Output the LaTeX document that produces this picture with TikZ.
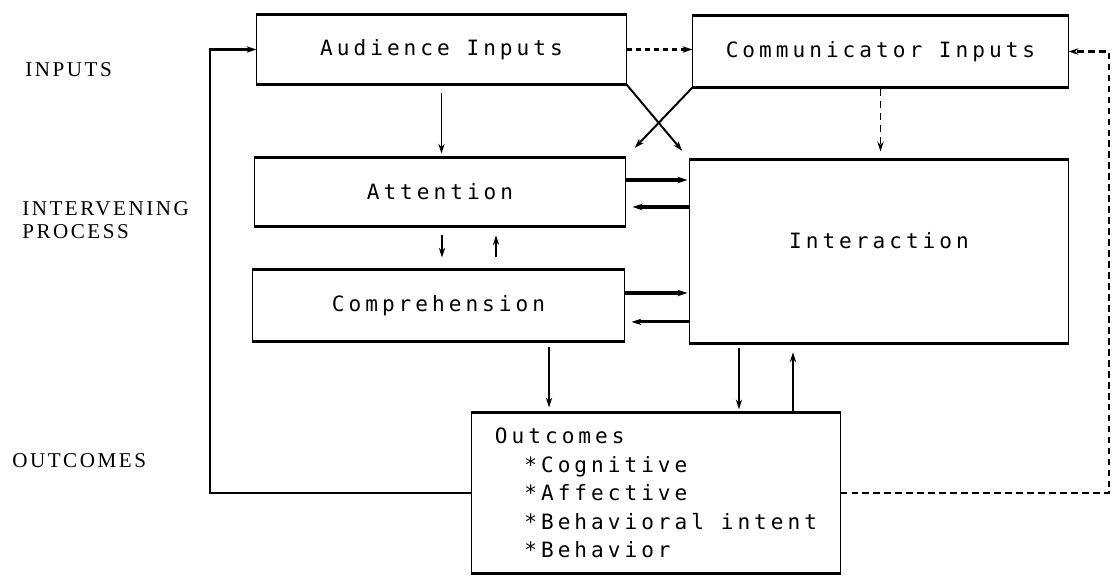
\documentclass[tikz,border=0pt]{standalone}
\usepackage{fontspec}
\newfontfamily\tw[LetterSpace=19]{DejaVu Sans Mono}
\newfontfamily\lbl[LetterSpace=12]{Liberation Serif}
\usetikzlibrary{arrows.meta,calc}
\begin{document}
\begin{tikzpicture}[x=0.025cm,y=-0.025cm,
  box/.style={draw, line width=0.7pt, inner sep=0pt, font=\tw\fontsize{15}{20.3}\selectfont},
  edge/.style={line width=2.3pt},
  tip/.style={-{Stealth[length=7pt,width=4.5pt]}},
  thinarrow/.style={tip, line width=0.8pt},
  thickarrow/.style={tip, line width=2.2pt},
  fbarrow/.style={tip, line width=1.6pt},
  crossarrow/.style={tip, line width=1.4pt},
  dashthick/.style={tip, line width=2.2pt, dash pattern=on 4pt off 2.4pt},
  dashfb/.style={tip, line width=1.8pt, dash pattern=on 4.8pt off 3pt},
  dashthin/.style={tip, line width=1.1pt, dash pattern=on 5pt off 3.5pt},
  sidelabel/.style={anchor=west, align=left, inner sep=0pt, font=\lbl\fontsize{15}{16.3}\selectfont}
]
\useasboundingbox (0,0) rectangle (1113,577);

% boxes
\node[box, minimum width=9.225cm, minimum height=1.725cm] (aud) at (441.5,49.5) {Audience Inputs};
\node[box, minimum width=9.375cm, minimum height=1.775cm] (com) at (880.5,51.5) {Communicator Inputs};
\node[box, minimum width=9.25cm, minimum height=1.7cm] (att) at (440,192) {Attention};
\node[box, minimum width=9.45cm, minimum height=4.575cm] (int) at (879,251.5) {};
\node[font=\tw\fontsize{15}{20.3}\selectfont, inner sep=0pt] (intlbl) at ($(int.center)+(0,-11)$) {Interaction};
\node[box, minimum width=9.275cm, minimum height=1.775cm] (cmp) at (438.5,305.5) {Comprehension};
\node[box, minimum width=9.2cm, minimum height=4cm, align=left] (out) at (656,493)
  {Outcomes\\\phantom{xx}*Cognitive\\\phantom{xx}*Affective\\\phantom{xx}*Behavioral intent\\\phantom{xx}*Behavior};

\foreach \n in {aud,com,att,int,cmp,out} {
  \draw[edge] (\n.north west) -- (\n.north east);
  \draw[edge] (\n.south west) -- (\n.south east);
}

% side labels
\node[sidelabel] (linp) at (25,70) {INPUTS};
\node[sidelabel] (lproc) at (22,220.5) {INTERVENING\\PROCESS};
\node[sidelabel] (lout) at (12,461) {OUTCOMES};

% top row
\draw[dashthick] (aud.east) -- (aud.east -| com.west);
\draw[thinarrow, shorten <=0.22cm, shorten >=0.1cm] (aud.south) -- (aud.south |- att.north);
\draw[dashthin, shorten <=0.03cm, shorten >=0.2cm] (com.south) -- (com.south |- int.north);
\draw[crossarrow, shorten >=0.28cm] (aud.south east) -- (int.north west);
\draw[crossarrow, shorten >=0.33cm] (com.south west) -- (att.north east);

% attention <-> interaction
\draw[thickarrow, shorten >=0.05cm] ([yshift=0.3cm]att.east) -- ([yshift=0.3cm]att.east -| int.west);
\draw[thickarrow, shorten >=0.175cm] ([yshift=-0.375cm]att.east -| int.west) -- ([yshift=-0.375cm]att.east);
% comprehension <-> interaction
\draw[thickarrow, shorten >=0.05cm] ([yshift=0.3125cm]cmp.east) -- ([yshift=0.3125cm]cmp.east -| int.west);
\draw[thickarrow, shorten >=0.175cm] ([yshift=-0.41cm]cmp.east -| int.west) -- ([yshift=-0.41cm]cmp.east);

% attention <-> comprehension
\draw[thinarrow, shorten <=0.22cm, shorten >=0.3cm] ([xshift=0.05cm]att.south) -- ([xshift=0.05cm]att.south |- cmp.north);
\draw[thinarrow, shorten <=0.3cm, shorten >=0.22cm] ([xshift=1.4cm]att.south |- cmp.north) -- ([xshift=1.4cm]att.south);

% to outcomes
\draw[thinarrow, shorten <=0.125cm, shorten >=0.125cm] ([xshift=2.7625cm]cmp.south) -- ([xshift=2.7625cm]cmp.south |- out.north);
\draw[thinarrow, shorten <=0.1cm, shorten >=0.08cm] ([xshift=-3.5cm]int.south) -- ([xshift=-3.5cm]int.south |- out.north);
\draw[thinarrow, shorten >=0.22cm] ([xshift=-2.15cm]int.south |- out.north) -- ([xshift=-2.15cm]int.south);

% feedback loops
\coordinate (fbl) at (210,300);
\coordinate (fbr) at (1109,300);
\draw[fbarrow] (out.west) -- (out.west -| fbl) -- (fbl |- aud.west) -- (aud.west);
\draw[dashfb] (out.east) -- (out.east -| fbr) -- (fbr |- com.east) -- (com.east);
\end{tikzpicture}
\end{document}
